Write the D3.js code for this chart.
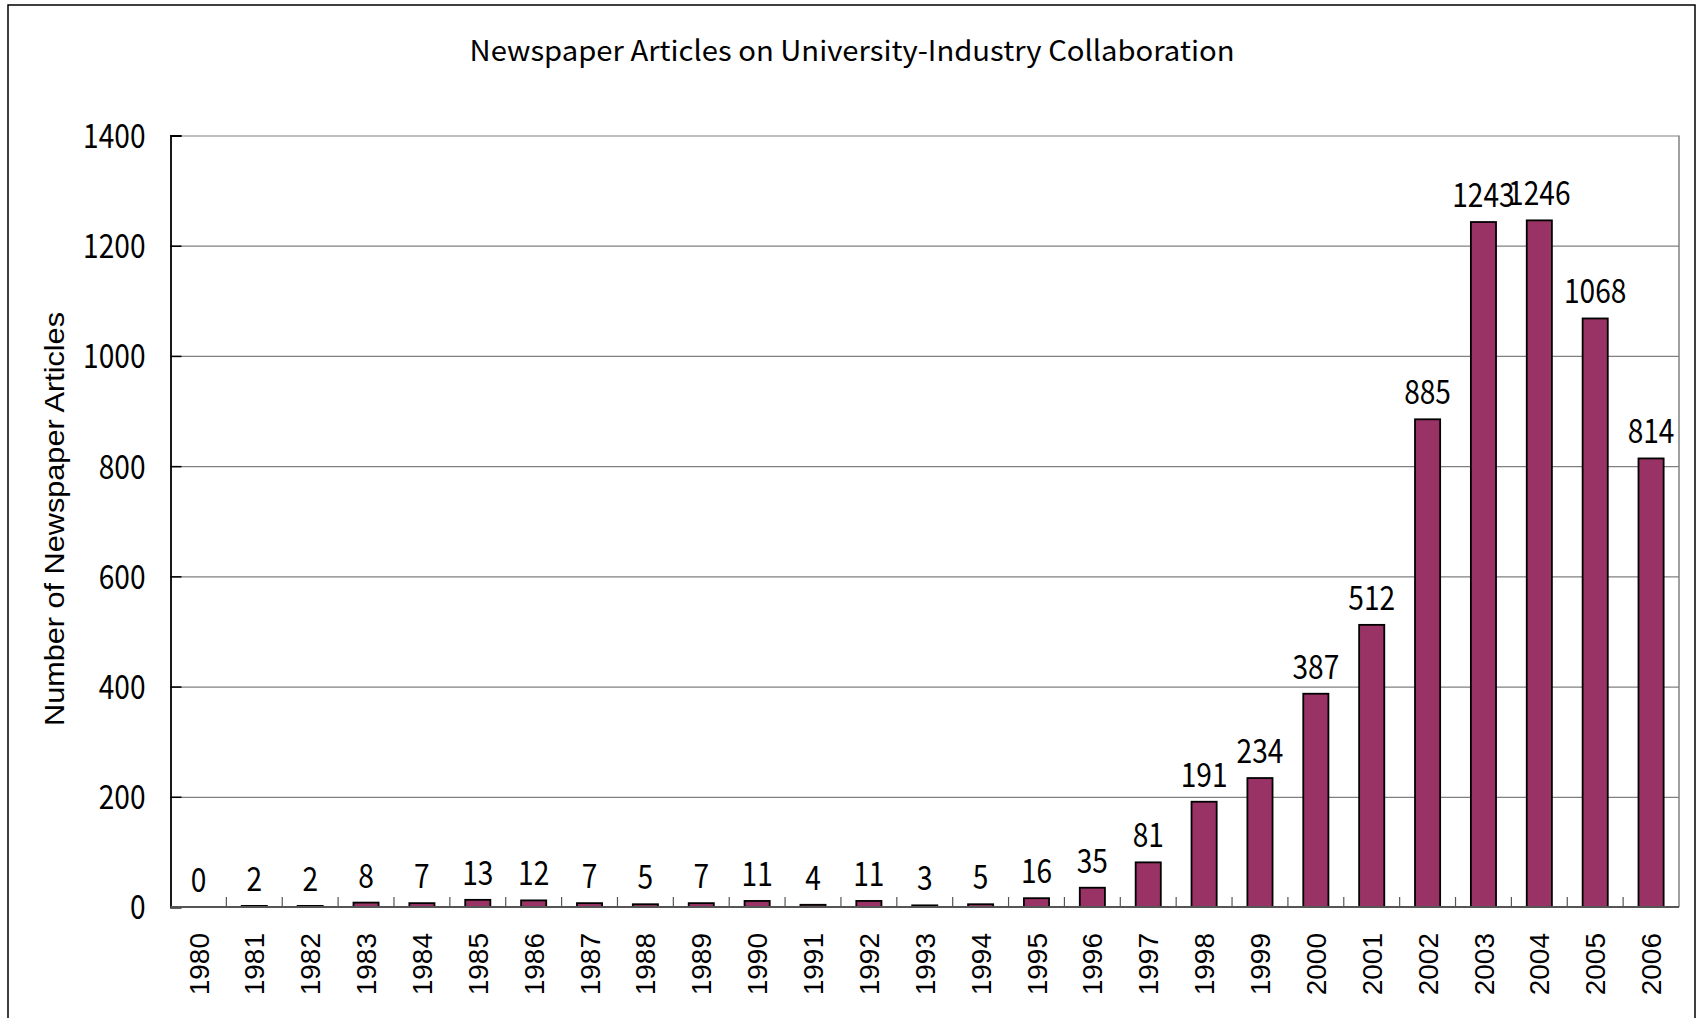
<!DOCTYPE html>
<html>
<head>
<meta charset="utf-8">
<script src="https://cdn.jsdelivr.net/npm/d3@7"></script>
<style>
  html, body { margin: 0; padding: 0; background: #fff; }
  svg { display: block; }
</style>
</head>
<body>
<svg id="chart" width="1700" height="1018"></svg>
<script>
// Yearly counts of newspaper articles on university-industry collaboration
const years = ["1980","1981","1982","1983","1984","1985","1986","1987","1988","1989",
               "1990","1991","1992","1993","1994","1995","1996","1997","1998","1999",
               "2000","2001","2002","2003","2004","2005","2006"];
const articles = [0, 2, 2, 8, 7, 13, 12, 7, 5, 7,
                  11, 4, 11, 3, 5, 16, 35, 81, 191, 234,
                  387, 512, 885, 1243, 1246, 1068, 814];
const yTicks = [0, 200, 400, 600, 800, 1000, 1200, 1400];

const chartTitle = "Newspaper Articles on University-Industry Collaboration";
const yTitle = "Number of Newspaper Articles";

const data = years.map((y, i) => ({ year: y, value: articles[i] }));

const svg = d3.select("#chart");
const plot = { left: 170.5, top: 135.5, right: 1679, bottom: 907 };
const jpFont = "'Noto Sans CJK JP', 'Noto Sans', sans-serif";
const latinFont = "'Liberation Sans', Arial, sans-serif";
const digitWidth = 15.6; // narrow, tall numerals

// Outer chart frame
svg.append("rect")
  .attr("x", 8).attr("y", 5)
  .attr("width", 1687).attr("height", 1030)
  .attr("fill", "#fff").attr("stroke", "#000").attr("stroke-width", 1.5);

// Title
svg.append("text")
  .attr("x", 852).attr("y", 61)
  .attr("text-anchor", "middle")
  .attr("font-family", jpFont)
  .attr("font-size", 28)
  .attr("textLength", 765)
  .attr("lengthAdjust", "spacingAndGlyphs")
  .attr("fill", "#000")
  .text(chartTitle);

// Scales
const x = d3.scaleBand()
  .domain(years)
  .range([plot.left, plot.right])
  .paddingInner(0.55)
  .paddingOuter(0.275);

const y = d3.scaleLinear()
  .domain([0, 1400])
  .range([plot.bottom, plot.top]);

const step = x.step();

// Horizontal gridlines
const grid = svg.append("g")
  .attr("transform", `translate(${plot.left},0)`)
  .call(d3.axisLeft(y).tickValues(yTicks).tickSize(-(plot.right - plot.left)).tickFormat(""));
grid.select(".domain").remove();
grid.selectAll(".tick line").attr("stroke", "#808080").attr("stroke-width", 1.2);

// Right edge of plot area
svg.append("line")
  .attr("x1", plot.right).attr("x2", plot.right)
  .attr("y1", plot.top).attr("y2", plot.bottom)
  .attr("stroke", "#808080").attr("stroke-width", 1.5);

// Bars
svg.append("g").selectAll("rect")
  .data(data)
  .join("rect")
  .attr("x", d => x(d.year))
  .attr("y", d => y(d.value))
  .attr("width", x.bandwidth())
  .attr("height", d => y(0) - y(d.value))
  .attr("fill", "#993366")
  .attr("stroke", "#000")
  .attr("stroke-width", 1.8);

// Value labels
svg.append("g").selectAll("text")
  .data(data)
  .join("text")
  .attr("x", d => x(d.year) + x.bandwidth() / 2)
  .attr("y", d => y(d.value) - 15)
  .attr("text-anchor", "middle")
  .attr("font-family", jpFont)
  .attr("font-size", 33)
  .attr("textLength", d => String(d.value).length * digitWidth)
  .attr("lengthAdjust", "spacingAndGlyphs")
  .attr("fill", "#000")
  .text(d => d.value);

// Y axis with inside ticks
const yAxis = svg.append("g")
  .attr("transform", `translate(${plot.left},0)`)
  .call(d3.axisLeft(y).tickValues(yTicks).tickSize(-11).tickPadding(25).tickFormat(d3.format("d")));
yAxis.select(".domain").attr("stroke", "#000").attr("stroke-width", 1.8);
yAxis.selectAll(".tick line").attr("stroke", "#000").attr("stroke-width", 1.5);
yAxis.selectAll(".tick text")
  .attr("font-family", jpFont)
  .attr("font-size", 33)
  .attr("textLength", d => String(d).length * digitWidth)
  .attr("lengthAdjust", "spacingAndGlyphs")
  .attr("fill", "#000")
  .attr("dy", "0.36em");

// X axis baseline and category boundary ticks
const xAxis = svg.append("g");
xAxis.append("line")
  .attr("x1", plot.left).attr("x2", plot.right)
  .attr("y1", y(0)).attr("y2", y(0))
  .attr("stroke", "#555").attr("stroke-width", 1.8);
xAxis.selectAll("line.tick")
  .data(years.slice(1))
  .join("line")
  .attr("class", "tick")
  .attr("x1", d => x(d) - step * 0.275)
  .attr("x2", d => x(d) - step * 0.275)
  .attr("y1", y(0)).attr("y2", y(0) - 10)
  .attr("stroke", "#555").attr("stroke-width", 1.2);

// Rotated year labels
xAxis.selectAll("text")
  .data(years)
  .join("text")
  .attr("transform", d => `translate(${x(d) + x.bandwidth() / 2},933) rotate(-90)`)
  .attr("text-anchor", "end")
  .attr("dy", "0.36em")
  .attr("font-family", latinFont)
  .attr("font-size", 28)
  .attr("fill", "#000")
  .text(d => d);

// Y axis title
svg.append("text")
  .attr("transform", `translate(54,519) rotate(-90)`)
  .attr("text-anchor", "middle")
  .attr("dy", "0.36em")
  .attr("font-family", latinFont)
  .attr("font-size", 28.5)
  .attr("textLength", 414)
  .attr("lengthAdjust", "spacingAndGlyphs")
  .attr("fill", "#000")
  .text(yTitle);
</script>
</body>
</html>
